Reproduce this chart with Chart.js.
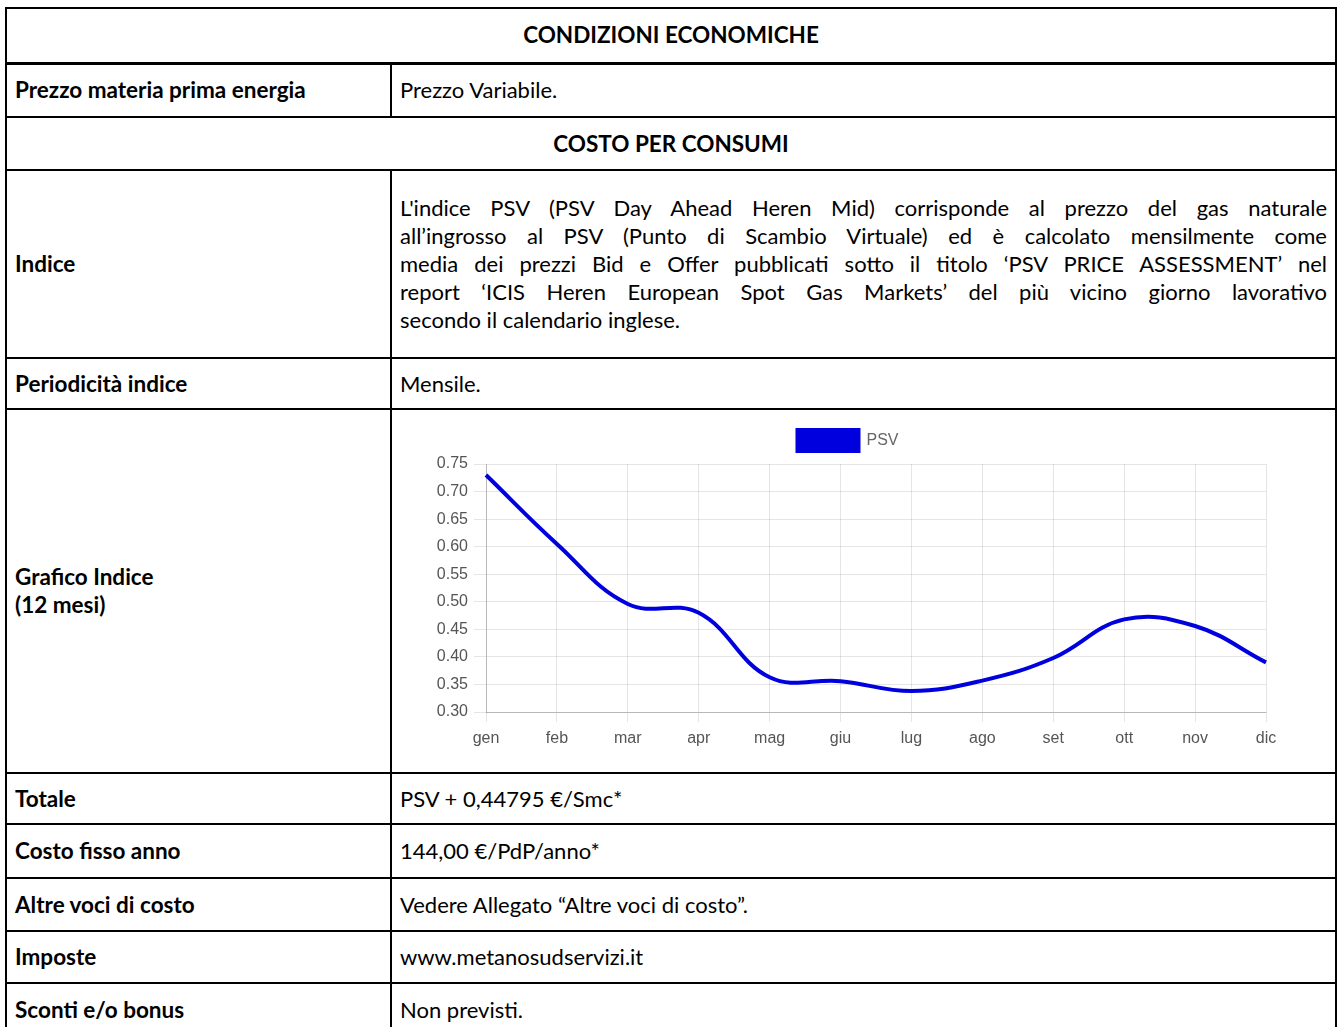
<!DOCTYPE html>
<html lang="it">
<head>
    <meta charset="UTF-8">
    <title>Condizioni economiche</title>
    <script src="https://cdn.jsdelivr.net/npm/chart.js"></script>
    <style>
        body {
            margin: 0;
            background: #fff;
            font-family: 'Lato', sans-serif;
            color: #000;
        }

        table {
            position: absolute;
            left: 5px;
            top: 7px;
            width: 1332px;
            border-collapse: collapse;
            table-layout: fixed;
            font-size: 22px;
            line-height: 28px;
        }

        td {
            border: 2px solid #000;
            padding: 0 8px;
            vertical-align: middle;
        }

        td.lab, td.head {
            font-weight: bold;
            font-size: 22.5px;
        }

        td.head {
            text-align: center;
        }

        tr.first td {
            border-bottom-width: 3px;
        }

        .par span {
            display: block;
            text-align: justify;
            text-align-last: justify;
            white-space: nowrap;
        }

        .par span.last {
            text-align-last: left;
        }

        #chartBox {
            position: absolute;
            left: 430px;
            top: 418px;
            width: 876px;
            height: 334px;
        }
    </style>
</head>
<body>

    <table>
        <colgroup>
            <col style="width: 385px;">
            <col>
        </colgroup>
        <tr class="first" style="height: 55px;"><td class="head" colspan="2">CONDIZIONI ECONOMICHE</td></tr>
        <tr style="height: 54px;"><td class="lab">Prezzo materia prima energia</td><td>Prezzo Variabile.</td></tr>
        <tr style="height: 53px;"><td class="head" colspan="2">COSTO PER CONSUMI</td></tr>
        <tr style="height: 188px;">
            <td class="lab">Indice</td>
            <td class="par">
                <span>L'indice PSV (PSV Day Ahead Heren Mid) corrisponde al prezzo del gas naturale</span>
                <span>all’ingrosso al PSV (Punto di Scambio Virtuale) ed è calcolato mensilmente come</span>
                <span>media dei prezzi Bid e Offer pubblicati sotto il titolo ‘PSV PRICE ASSESSMENT’ nel</span>
                <span>report ‘ICIS Heren European Spot Gas Markets’ del più vicino giorno lavorativo</span>
                <span class="last">secondo il calendario inglese.</span>
            </td>
        </tr>
        <tr style="height: 51px;"><td class="lab">Periodicità indice</td><td>Mensile.</td></tr>
        <tr style="height: 364px;"><td class="lab">Grafico Indice<br>(12 mesi)</td><td></td></tr>
        <tr style="height: 51px;"><td class="lab">Totale</td><td>PSV + 0,44795 €/Smc*</td></tr>
        <tr style="height: 54px;"><td class="lab">Costo fisso anno</td><td>144,00 €/PdP/anno*</td></tr>
        <tr style="height: 53px;"><td class="lab">Altre voci di costo</td><td>Vedere Allegato “Altre voci di costo”.</td></tr>
        <tr style="height: 52px;"><td class="lab">Imposte</td><td>www.metanosudservizi.it</td></tr>
        <tr style="height: 53px;"><td class="lab">Sconti e/o bonus</td><td>Non previsti.</td></tr>
    </table>

    <div id="chartBox">
        <canvas id="psvChart" width="876" height="334"></canvas>
    </div>

    <script>
        // mesi e valori PSV
        const mesi = ['gen', 'feb', 'mar', 'apr', 'mag', 'giu', 'lug', 'ago', 'set', 'ott', 'nov', 'dic'];
        const valoriPSV = [0.730, 0.605, 0.496, 0.480, 0.363, 0.356, 0.338, 0.357, 0.398, 0.468, 0.456, 0.390];
        const yMin = 0.30;
        const yMax = 0.75;
        const yStep = 0.05;

        const blu = 'rgb(0, 0, 222)';
        const griglia = 'rgba(0, 0, 0, 0.1)';
        const fontAssi = { family: "'Liberation Sans', Arial, sans-serif", size: 16 };

        // un po' di spazio in più sotto la legenda
        const spazioLegenda = {
            id: 'spazioLegenda',
            beforeInit(chart) {
                const fitOrig = chart.legend.fit;
                chart.legend.fit = function() {
                    fitOrig.call(this);
                    this.height += 3;
                };
            }
        };

        const ctx = document.getElementById('psvChart').getContext('2d');
        new Chart(ctx, {
            type: 'line',
            data: {
                labels: mesi,
                datasets: [{
                    label: 'PSV',
                    data: valoriPSV,
                    borderColor: blu,
                    backgroundColor: blu,
                    borderWidth: 4,
                    fill: false,
                    tension: 0.4,
                    pointRadius: 0
                }]
            },
            plugins: [spazioLegenda],
            options: {
                responsive: false,
                animation: false,
                layout: {
                    padding: { right: 40 }
                },
                plugins: {
                    legend: {
                        labels: {
                            boxWidth: 61,
                            boxHeight: 21,
                            padding: 12,
                            color: '#666',
                            font: fontAssi
                        }
                    },
                    tooltip: { enabled: false }
                },
                scales: {
                    x: {
                        grid: { color: griglia, tickLength: 10 },
                        border: { color: 'rgba(0, 0, 0, 0.2)' },
                        ticks: {
                            padding: 7,
                            color: '#555',
                            maxRotation: 0,
                            font: fontAssi
                        },
                        afterFit: function(scale) { scale.height = 40; }
                    },
                    y: {
                        min: yMin,
                        max: yMax,
                        grid: { color: griglia, tickLength: 12 },
                        border: { color: 'rgba(0, 0, 0, 0.2)' },
                        ticks: {
                            stepSize: yStep,
                            padding: 6,
                            color: '#555',
                            font: fontAssi,
                            callback: function(v) { return v.toFixed(2); }
                        },
                        afterFit: function(scale) { scale.width = 56; }
                    }
                }
            }
        });
    </script>
</body>
</html>
